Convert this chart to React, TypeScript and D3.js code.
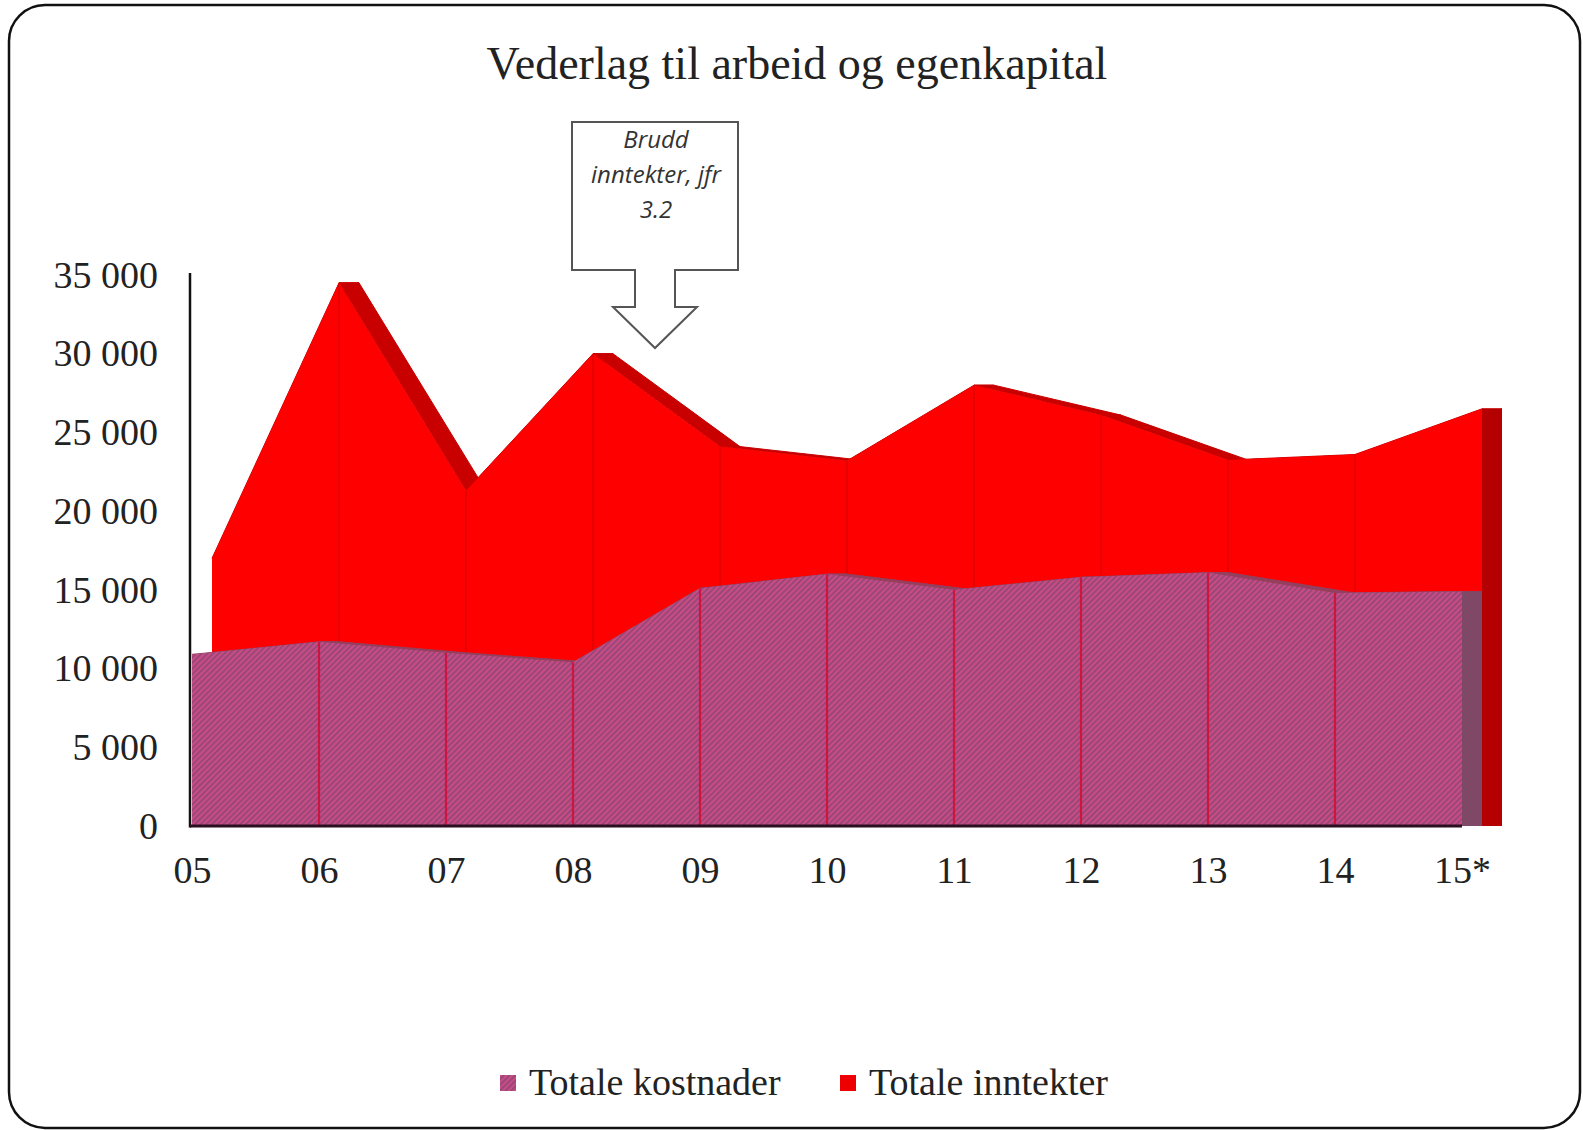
import React, { useRef, useEffect } from 'react';
import * as d3 from 'd3';

const years = ['05', '06', '07', '08', '09', '10', '11', '12', '13', '14', '15*'];
const kostnader = [10900, 11700, 11000, 10400, 15100, 16000, 15000, 15800, 16100, 14800, 14900];
const inntekter = [17000, 34500, 21300, 30000, 24100, 23200, 28000, 26100, 23250, 23600, 26500];
const yTicks = [0, 5000, 10000, 15000, 20000, 25000, 30000, 35000];
const legendLabels = ['Totale kostnader', 'Totale inntekter'];
const noteLines = ['Brudd', 'inntekter, jfr', '3.2'];
const chartTitle = 'Vederlag til arbeid og egenkapital';

const W = 1583;
const H = 1130;
const DEPTH = 20;

export default function App() {
  const svgRef = useRef<SVGSVGElement>(null);

  useEffect(() => {
    const svg = d3.select(svgRef.current);
    svg.selectAll('*').remove();
    svg.attr('width', W).attr('height', H);

    const serif = '"Liberation Serif", "Times New Roman", serif';

    // hatch pattern for the cost series
    const defs = svg.append('defs');
    const pat = defs.append('pattern')
      .attr('id', 'hatch')
      .attr('patternUnits', 'userSpaceOnUse')
      .attr('width', 4)
      .attr('height', 4)
      .attr('patternTransform', 'rotate(45)');
    pat.append('rect').attr('width', 4).attr('height', 4).attr('fill', '#c84c82');
    pat.append('rect').attr('width', 1.4).attr('height', 4).attr('fill', '#874678');

    // frame
    svg.append('rect')
      .attr('x', 9).attr('y', 5)
      .attr('width', 1571).attr('height', 1123)
      .attr('rx', 36).attr('ry', 36)
      .attr('fill', '#fff')
      .attr('stroke', '#111')
      .attr('stroke-width', 2.5);

    // title
    svg.append('text')
      .attr('x', 797).attr('y', 79)
      .attr('text-anchor', 'middle')
      .attr('font-family', serif)
      .attr('font-size', 46)
      .attr('fill', '#222')
      .text(chartTitle);

    const x = d3.scalePoint<string>().domain(years).range([192, 1462]);
    const y = d3.scaleLinear().domain([0, 35000]).range([826, 275]);
    const base = y(0);

    const line = d3.line<[number, number]>().x(d => d[0]).y(d => d[1]);
    const area = d3.area<number>()
      .x((d, i) => x(years[i])!)
      .y0(base)
      .y1(d => y(d));

    function drawSeries(values: number[], offset: number, face: string, band: string, side: string, lineColor: string, lineWidth: number) {
      const g = svg.append('g').attr('transform', `translate(${offset},0)`);
      const pts = values.map((v, i) => [x(years[i])!, y(v)] as [number, number]);

      // top face bands
      for (let i = 0; i < pts.length - 1; i++) {
        const a = pts[i], b = pts[i + 1];
        g.append('path')
          .attr('d', line([a, b, [b[0] + DEPTH, b[1]], [a[0] + DEPTH, a[1]]]) + 'Z')
          .attr('fill', band)
          .attr('stroke', band)
          .attr('stroke-width', 1);
      }

      // right side face
      const last = pts[pts.length - 1];
      g.append('path')
        .attr('d', line([[last[0], base], last, [last[0] + DEPTH, last[1]], [last[0] + DEPTH, base]]) + 'Z')
        .attr('fill', side);

      // front face
      g.append('path')
        .datum(values)
        .attr('d', area)
        .attr('fill', face);

      // category lines
      g.selectAll('.cat')
        .data(pts.slice(1, -1))
        .enter()
        .append('line')
        .attr('x1', d => d[0]).attr('x2', d => d[0])
        .attr('y1', d => d[1]).attr('y2', base)
        .attr('stroke', lineColor)
        .attr('stroke-width', lineWidth);
    }

    drawSeries(inntekter, DEPTH, '#fe0000', '#c90000', '#b40000', '#e00000', 1.5);
    drawSeries(kostnader, 0, 'url(#hatch)', '#93405f', '#7f4866', '#cc1540', 2.2);

    // axes
    const yAxis = d3.axisLeft(y)
      .tickValues(yTicks)
      .tickSize(0)
      .tickPadding(32)
      .tickFormat(d => d3.format(',')(d as number).replace(',', ' '));
    const yg = svg.append('g').attr('transform', 'translate(190,0)').call(yAxis);
    yg.select('.domain').remove();
    yg.selectAll('text').attr('font-family', serif).attr('font-size', 38).attr('fill', '#222');

    const xAxis = d3.axisBottom(x).tickSize(0).tickPadding(30);
    const xg = svg.append('g').attr('transform', `translate(0,${base})`).call(xAxis);
    xg.select('.domain').remove();
    xg.selectAll('text').attr('font-family', serif).attr('font-size', 38).attr('fill', '#222');

    svg.append('line')
      .attr('x1', 190).attr('x2', 190)
      .attr('y1', 273).attr('y2', base + 1.5)
      .attr('stroke', '#111').attr('stroke-width', 2.5);
    svg.append('line')
      .attr('x1', 190).attr('x2', x('15*')!)
      .attr('y1', base).attr('y2', base)
      .attr('stroke', '#2a1020').attr('stroke-width', 3);

    // callout
    const note = svg.append('g');
    note.append('path')
      .attr('d', 'M572,122 H738 V270 H675 V307 H697 L655,348 L613,307 H635 V270 H572 Z')
      .attr('fill', '#fff')
      .attr('stroke', '#555')
      .attr('stroke-width', 2);
    note.selectAll('text')
      .data(noteLines)
      .enter()
      .append('text')
      .attr('x', 656)
      .attr('y', (d, i) => 148 + i * 35)
      .attr('text-anchor', 'middle')
      .attr('font-family', '"Open Sans", "DejaVu Sans", sans-serif')
      .attr('font-style', 'italic')
      .attr('font-size', 24)
      .attr('fill', '#333')
      .text(d => d);

    // legend
    const legend = svg.append('g');
    const lx = [500, 840];
    const fills = ['url(#hatch)', '#ee0000'];
    legendLabels.forEach((lab, i) => {
      legend.append('rect')
        .attr('x', lx[i]).attr('y', 1075)
        .attr('width', 16).attr('height', 16)
        .attr('fill', fills[i]);
      legend.append('text')
        .attr('x', lx[i] + 29).attr('y', 1095)
        .attr('font-family', serif)
        .attr('font-size', 38)
        .attr('fill', '#222')
        .text(lab);
    });
  }, []);

  return (
    <div style={{ position: 'absolute', left: 0, top: 0 }}>
      <svg ref={svgRef} style={{ display: 'block' }} />
    </div>
  );
}
